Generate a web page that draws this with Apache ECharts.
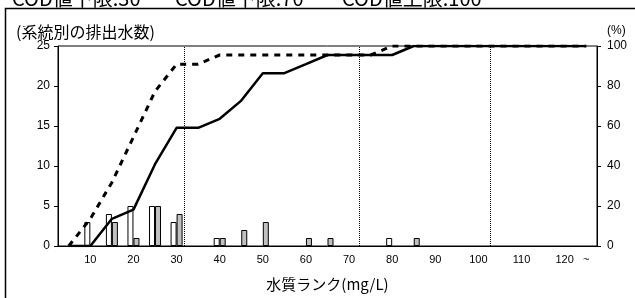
<!DOCTYPE html>
<html>
<head>
<meta charset="utf-8">
<script src="https://cdn.jsdelivr.net/npm/echarts@6/dist/echarts.min.js"></script>
<style>
  html, body { margin: 0; padding: 0; background: #fff; }
  #chart { width: 635px; height: 298px; }
</style>
</head>
<body>
<div id="chart"></div>
<script>
  // 水質ランク (mg/L)
  var ranks = ['5','10','15','20','25','30','35','40','45','50','55','60','65','70','75','80','85','90','95','100','105','110','115','120','~'];
  // 系統別の排出水数
  var countA = [0,3,4,5,5,3,0,1,0,0,0,0,0,0,0,1,0,0,0,0,0,0,0,0,0];
  var countB = [0,0,3,1,5,4,0,1,2,3,0,1,1,0,0,0,1,0,0,0,0,0,0,0,0];
  // 累積 (%)
  var cumA = [0,13.6,31.8,54.5,77.3,90.9,90.9,95.5,95.5,95.5,95.5,95.5,95.5,95.5,95.5,100,100,100,100,100,100,100,100,100,100];
  var cumB = [0,0,13.6,18.2,40.9,59.1,59.1,63.6,72.7,86.4,86.4,90.9,95.5,95.5,95.5,95.5,100,100,100,100,100,100,100,100,100];
  // 値の下限・上限の縦線
  var limitRanks = [31.7, 72.3, 102.7];
  var limitTexts = ['COD値下限:30', 'COD値下限:70', 'COD値上限:100'];

  var jp = '"Noto Sans CJK JP", sans-serif'
  var num = '"Liberation Sans", Arial, sans-serif'

  // 0 の棒は描かない
  function noZero (arr) { return arr.map(function (v) { return v === 0 ? '-' : v }) }

  var chart = echarts.init(document.getElementById('chart'), null, {renderer: 'canvas'})

  var option = {
    animation: false,
    backgroundColor: '#fff',
    grid: {
      left: 58, right: 38, top: 46, bottom: 52,
      show: true, borderColor: '#000', borderWidth: 1, backgroundColor: 'transparent'
    },
    graphic: [
      {type: 'rect', shape: {x: 5.5, y: 8.5, width: 700, height: 400},
        style: {fill: 'none', stroke: '#000', lineWidth: 1.5}, z: 0},
      {type: 'text', x: 12, y: -2, style: {text: limitTexts[0], font: '20px ' + jp, fill: '#000', verticalAlign: 'middle'}},
      {type: 'text', x: 175, y: -2, style: {text: limitTexts[1], font: '20px ' + jp, fill: '#000', verticalAlign: 'middle'}},
      {type: 'text', x: 342, y: -2, style: {text: limitTexts[2], font: '20px ' + jp, fill: '#000', verticalAlign: 'middle'}},
      {type: 'text', x: 16, y: 32, style: {text: '(系統別の排出水数)', font: '16px ' + jp, fill: '#000', verticalAlign: 'middle'}},
      {type: 'text', x: 607, y: 31, style: {text: '(%)', font: '12px ' + num, fill: '#000', verticalAlign: 'middle'}}
    ],
    xAxis: [
      {
        type: 'category',
        data: ranks,
        boundaryGap: true,
        name: '水質ランク(mg/L)',
        nameLocation: 'middle',
        nameGap: 31,
        nameTextStyle: {fontFamily: jp, fontSize: 15, color: '#000'},
        axisLine: {lineStyle: {color: '#000', width: 1}},
        axisTick: {interval: 0, length: 3, lineStyle: {color: '#000'}},
        axisLabel: {
          interval: function (idx) { return idx % 2 === 1 || idx === ranks.length - 1 },
          fontFamily: '"Liberation Sans Narrow", ' + num, fontSize: 11, color: '#000', margin: 8
        },
        splitLine: {show: false}
      },
      {
        type: 'value',
        min: 2.5, max: 127.5,
        show: false,
        splitLine: {show: false}
      }
    ],
    yAxis: [
      {
        type: 'value', min: 0, max: 25, interval: 5,
        axisLine: {show: true, lineStyle: {color: '#000'}},
        axisTick: {show: true, length: 4, lineStyle: {color: '#000'}},
        axisLabel: {fontFamily: num, fontSize: 12, color: '#000', margin: 8},
        splitLine: {show: false}
      },
      {
        type: 'value', min: 0, max: 100, interval: 20,
        position: 'right',
        axisLine: {show: true, lineStyle: {color: '#000'}},
        axisTick: {show: true, length: 4, lineStyle: {color: '#000'}},
        axisLabel: {fontFamily: num, fontSize: 12, color: '#000', margin: 10},
        splitLine: {show: false}
      }
    ],
    series: [
      {
        name: 'A', type: 'bar', data: noZero(countA), barWidth: 6, barGap: '0%',
        itemStyle: {color: '#fff', borderColor: '#000', borderWidth: 1}
      },
      {
        name: 'B', type: 'bar', data: noZero(countB), barWidth: 6, barGap: '0%',
        itemStyle: {color: '#c0c0c0', borderColor: '#000', borderWidth: 1}
      },
      {
        name: 'limits', type: 'line', xAxisIndex: 1, yAxisIndex: 0, data: [],
        markLine: {
          silent: true, symbol: 'none', label: {show: false},
          lineStyle: {color: '#000', type: 'dotted', width: 1},
          data: limitRanks.map(function (v) { return {xAxis: v} })
        }
      },
      {
        name: '累積A', type: 'line', yAxisIndex: 1, data: cumA, symbol: 'none',
        lineStyle: {color: '#000', width: 3, type: [6, 6]}, z: 5
      },
      {
        name: '累積B', type: 'line', yAxisIndex: 1, data: cumB, symbol: 'none',
        lineStyle: {color: '#000', width: 2.5}, z: 4
      }
    ]
  }
  chart.setOption(option)
</script>
</body>
</html>
